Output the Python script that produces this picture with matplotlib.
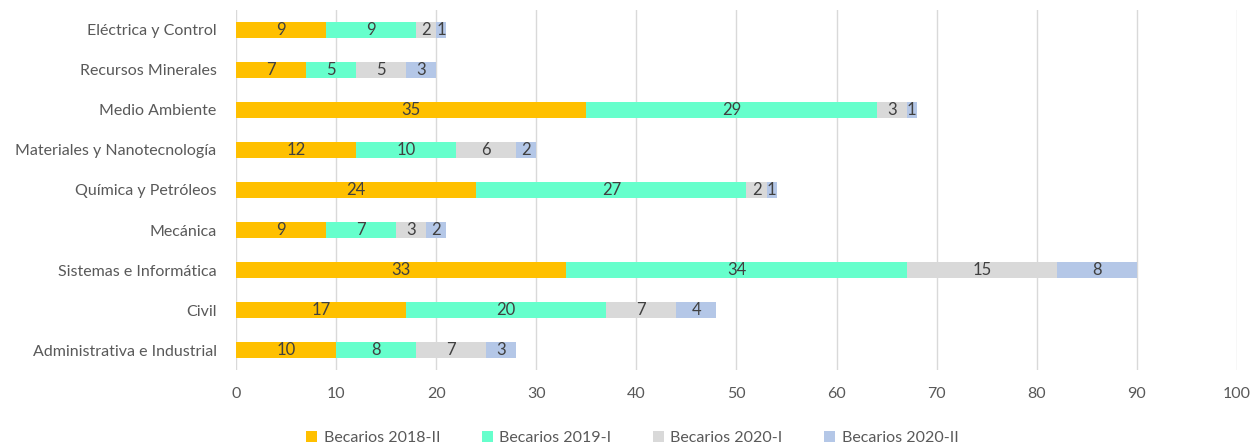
import matplotlib.pyplot as plt
import numpy as np

plt.rcParams['font.family'] = ['Lato', 'DejaVu Sans']

categories = ["Administrativa e Industrial", "Civil", "Sistemas e Informática", "Mecánica",
              "Química y Petróleos", "Materiales y Nanotecnología", "Medio Ambiente",
              "Recursos Minerales", "Eléctrica y Control"]
b2018_2 = [10, 17, 33, 9, 24, 12, 35, 7, 9]
b2019_1 = [8, 20, 34, 7, 27, 10, 29, 5, 9]
b2020_1 = [7, 7, 15, 3, 2, 6, 3, 5, 2]
b2020_2 = [3, 4, 8, 2, 1, 2, 1, 3, 1]
series_names = ["Becarios 2018-II", "Becarios 2019-I", "Becarios 2020-I", "Becarios 2020-II"]
colors = ["#FFC000", "#66FFCC", "#D9D9D9", "#B4C7E7"]


def main():
    fig = plt.figure(figsize=(12.52, 4.46), dpi=100)
    ax = fig.add_axes([0.1885, 0.170, 0.7995, 0.808])
    y = np.arange(len(categories))
    left = np.zeros(len(categories))
    for vals, name, col in zip([b2018_2, b2019_1, b2020_1, b2020_2], series_names, colors):
        bars = ax.barh(y, vals, left=left, height=0.39, color=col, label=name, zorder=3)
        ax.bar_label(bars, labels=[str(v) for v in vals], label_type="center",
                     fontsize=12, color="#404040")
        left += np.array(vals)

    ax.set_xlim(0, 100)
    ax.set_ylim(-0.5, len(categories) - 0.5)
    ax.set_xticks(range(0, 101, 10))
    ax.set_yticks(y)
    ax.set_yticklabels(categories)
    ax.grid(axis="x", color="#D9D9D9", linewidth=1, zorder=0)
    for s in ax.spines.values():
        s.set_visible(False)
    ax.tick_params(axis="both", length=0, labelsize=11.5, colors="#595959")
    ax.tick_params(axis="y", pad=14)
    ax.tick_params(axis="x", pad=12)

    fig.legend(loc="lower center", ncol=4, frameon=False, fontsize=11.5,
               bbox_to_anchor=(0.505, -0.03), handlelength=0.7, handleheight=0.7,
               columnspacing=2.6, handletextpad=0.4, labelcolor="#595959")
    fig.savefig("out.png", dpi=100)


if __name__ == "__main__":
    main()
